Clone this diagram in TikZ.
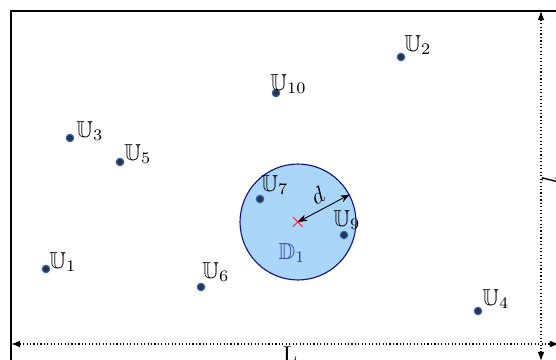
\documentclass[tikz,border=0pt]{standalone}
\usepackage{amssymb}
\usetikzlibrary{arrows.meta}
\definecolor{discfill}{RGB}{170,214,250}
\definecolor{discline}{RGB}{20,20,140}
\definecolor{dlabel}{RGB}{40,60,170}
\definecolor{ptfill}{RGB}{50,50,60}
\definecolor{ptline}{RGB}{40,100,190}
\tikzset{
  user/.style={circle,fill=ptfill,draw=ptline,line width=0.5pt,inner sep=0pt,minimum size=3.2pt},
  ulabel/.style={inner sep=0pt,anchor=base west},
  dim/.style={densely dotted,line width=0.5pt,{Latex[length=4pt,width=3pt]}-{Latex[length=4pt,width=3pt]}},
}
\begin{document}
\begin{tikzpicture}[x=0.434pt,y=-0.434pt]
\useasboundingbox (0,0) rectangle (556,360);
\clip (0,0) rectangle (556,360);
% area
\draw[line width=0.9pt] (11,11) rectangle (640,420);
% dimension lines
\coordinate (vt) at (541,11);
\coordinate (vb) at (541,361);
\coordinate (hl) at (11,344);
\coordinate (hr) at (559,344);
\draw[dim] (vt) -- (vb);
\node[rotate=90,inner sep=0pt] (llab) at (550,180) {$l$};
\draw[dim] (hl) -- (hr);
\node (Llab) at (290,355) {L};
% disc
\node[circle,draw=discline,fill=discfill,line width=0.5pt,minimum size=50.3pt,inner sep=0pt] (disc) at (298,222) {};
\node[text=red,inner sep=0pt,font=\small] (ctr) at (298,222) {$\times$};
\draw[{Stealth[length=4pt,width=3pt]}-{Stealth[length=4pt,width=3pt]},line width=0.4pt] (disc.center) -- (disc.28) node[midway,sloped,above=-1pt] {$d$};
\node[text=dlabel] (Dlab) at (292,253) {$\mathbb{D}_1$};
% users
\node[user] (u1) at (46,269) {};
\node[user] (u2) at (401,57) {};
\node[user] (u3) at (70,138) {};
\node[user] (u4) at (478,311) {};
\node[user] (u5) at (120,162) {};
\node[user] (u6) at (201,287) {};
\node[user] (u7) at (260,199) {};
\node[user] (u9) at (344,235) {};
\node[user] (u10) at (276,93) {};
\node[ulabel] (l1) at (49,268) {$\mathbb{U}_1$};
\node[ulabel] (l2) at (404,51) {$\mathbb{U}_2$};
\node[ulabel] (l3) at (76,137) {$\mathbb{U}_3$};
\node[ulabel] (l4) at (482,305) {$\mathbb{U}_4$};
\node[ulabel] (l5) at (124,160) {$\mathbb{U}_5$};
\node[ulabel] (l6) at (202,278) {$\mathbb{U}_6$};
\node[ulabel] (l7) at (261,191) {$\mathbb{U}_7$};
\node[ulabel] (l9) at (333,226) {$\mathbb{U}_9$};
\node[ulabel] (l10) at (270,90) {$\mathbb{U}_{10}$};
\end{tikzpicture}
\end{document}
